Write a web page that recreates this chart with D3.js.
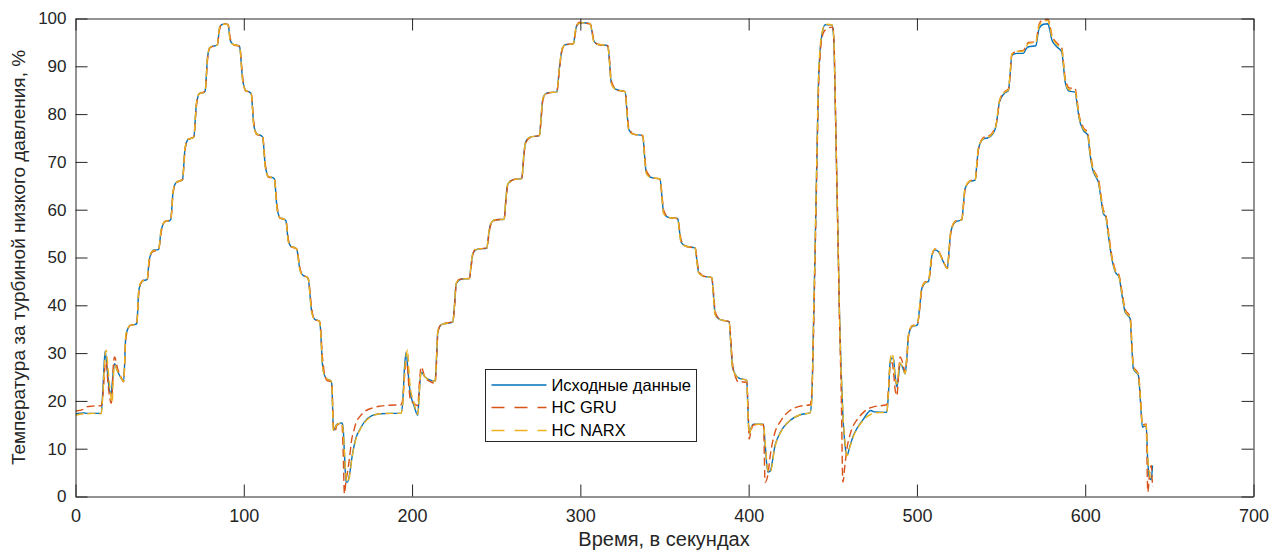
<!DOCTYPE html>
<html>
<head>
<meta charset="utf-8">
<script src="https://cdn.jsdelivr.net/npm/d3@7"></script>
<style>
  body { margin: 0; background: #fff; }
  svg { display: block; font-family: "Liberation Sans", Arial, sans-serif; }
</style>
</head>
<body>
<svg id="chart" width="1280" height="552"></svg>
<script>
// time, s
const time = [
  0, 5, 7, 10, 15.3, 16.5, 17.6, 18.3, 19.0, 20.2, 21.2, 21.8, 22.4, 23.2, 25, 27, 28.6, 29.9, 31, 32.5, 35.5,
  36.4, 37.6, 38.6, 40.0, 41.8, 42.6, 43.8, 45.0, 46.3, 48.7, 49.5, 50.8, 52.0, 53.3, 55.9, 56.6, 57.9, 59.0, 60.2, 62.8,
  63.6, 65.0, 66.0, 67.1, 69.5, 70.3, 71.8, 72.8, 73.5, 76.1, 77.0, 78.5, 79.5, 80.6, 83.0, 84.3, 85.6, 86.8, 88.0, 90.0,
  90.8, 91.9, 93.0, 94.5, 96.9, 97.6, 99.2, 100.2, 101.2, 103.4, 104.4, 105.9, 107.0, 107.8, 110.3,
  111.2, 112.8, 113.8, 114.7, 117.3, 118.2, 119.8, 120.8, 121.6, 124.0, 125.0, 126.4, 127.3, 128.2, 130.5,
  131.5, 133.3, 134.2, 135.1, 137.5, 138.3, 140.3, 141.4, 142.4, 144.4, 145.2, 146.8, 147.8, 149.4, 151.8,
  152.3, 153.3, 154.2, 155.3, 158.3, 159.0, 159.8, 160.8, 161.6, 162.8, 164.2, 165.2, 167.2, 168.2, 171.5, 176.1, 181.1, 187.0, 193.4,
  194.5, 195.5, 196.5, 197.3, 198.0, 198.9, 201.0, 203.4, 204.3, 205.4, 207.8, 210.5, 213.7,
  214.4, 215.3, 216.4, 217.7, 224.2, 225.2, 226.2, 227.8, 229.6, 234.1, 235.1, 236.1, 237.6, 239.5, 244.4,
  245.4, 246.4, 247.8, 249.4, 254.7, 255.7, 256.7, 258.3, 260.3, 265.2, 266.2, 267.2, 268.6, 270.2, 275.7,
  276.7, 277.7, 279.2, 281.0, 286.0, 287.5, 289.0, 290.0, 291.0, 295.9, 296.9, 297.9, 299.4, 300.9, 305.8,
  306.8, 307.8, 309.3, 310.8, 316.3, 317.3, 318.3, 320.0, 321.7, 326.6, 327.6, 328.6, 330.1, 331.6, 337.1,
  338.1, 339.1, 340.8, 342.5, 347.4, 348.4, 349.4, 350.9, 352.4, 357.9, 358.9, 359.9, 361.6, 363.3, 368.2,
  369.2, 370.2, 371.7, 373.2, 378.1, 379.1, 380.1, 381.6, 383.1, 388.4, 389.4, 390.4, 392.2, 393.9, 398.9,
  399.6, 400.3, 401.6, 402.9, 408.8, 409.8, 411.4, 412.8, 415.7, 418.7, 421.0, 424.6, 430.6, 436.5,
  437.5, 438.5, 439.5, 440.5, 441.5, 442.5, 443.5, 445.5, 449.4, 450.2, 450.8, 451.6, 452.4, 453.2, 454.0, 455.0, 456.0, 457.2, 458.4, 460.3, 462.3, 464.3, 468.2, 472.6, 474.5, 482.1,
  483.0, 484.1, 485.3, 486.1, 487.0, 488.1, 489.0, 490.0, 491.5, 493.0, 494.0, 495.0, 497.0, 500.3,
  501.6, 502.9, 504.9, 506.9, 507.9, 508.9, 510.8, 512.8, 515.7, 518.1, 519.1, 520.1, 522.7, 526.7,
  527.6, 528.6, 531.6, 534.6, 535.6, 536.6, 539.5, 542.5, 545.0, 547.1, 548.0, 549.0, 551.8, 554.4,
  555.4, 556.4, 559.4, 563.3, 564.8, 566.3, 570.7, 571.6, 572.6, 575.2, 577.8, 579.0, 580.2, 583.1, 586.1,
  587.1, 588.1, 590.4, 594.0, 595.2, 596.4, 598.9, 601.5, 602.7, 604.3, 606.9, 607.8, 609.3, 610.8, 612.2,
  614.0, 615.8, 617.8, 620.1, 621.9, 623.7, 626.7, 627.6, 628.6, 631.6, 632.8, 634.0, 636.2, 637.2, 638.2, 639.2, 640.0
];

// Исходные данные
const original = [
  17.3, 17.5, 17.4, 17.4, 17.4, 24.0, 30.4, 28.5, 26.0, 22.2, 21.5, 23.5, 26.0, 27.8, 26.2, 24.8, 24.1, 33.5, 35.0, 35.8, 36.0,
  36.2, 43.0, 44.4, 45.1, 45.3, 45.4, 49.5, 50.8, 51.6, 51.6, 51.8, 55.5, 56.9, 57.6, 57.7, 57.9, 63.5, 65.2, 65.8, 66.1,
  66.3, 72.5, 74.1, 74.8, 75.0, 75.2, 82.0, 83.7, 84.3, 84.5, 84.8, 92.0, 93.6, 94.1, 94.3, 94.5, 98.0, 98.7, 98.8, 98.8,
  98.5, 95.5, 94.8, 94.5, 94.3, 94.0, 87.5, 85.7, 84.9, 84.6, 84.3, 77.8, 76.3, 75.8, 75.5,
  75.2, 69.0, 67.5, 66.9, 66.7, 66.4, 60.2, 58.8, 58.3, 58.0, 57.7, 53.6, 52.7, 52.3, 52.0,
  51.7, 47.6, 46.7, 46.3, 45.9, 45.5, 38.8, 37.5, 37.0, 36.8, 36.4, 27.5, 25.5, 24.6, 24.2,
  23.5, 13.8, 14.4, 15.1, 15.4, 14.5, 9.0, 3.0, 3.0, 4.5, 8.0, 10.0, 12.8, 13.5, 15.5, 16.9, 17.3, 17.4, 17.4,
  20.0, 27.0, 30.2, 27.5, 24.5, 21.8, 19.2, 17.0, 22.0, 26.0, 25.0, 24.4, 24.1,
  28.0, 34.4, 35.5, 36.0, 36.5, 40.0, 44.5, 45.2, 45.5, 45.6, 48.5, 50.8, 51.5, 51.8, 51.9,
  54.5, 56.7, 57.6, 57.9, 58.0, 62.0, 65.1, 66.0, 66.3, 66.5, 70.5, 73.8, 74.8, 75.2, 75.5,
  79.5, 83.2, 84.2, 84.5, 84.6, 89.5, 93.4, 94.2, 94.5, 94.7, 97.0, 98.6, 99.0, 99.1, 98.9,
  97.5, 95.5, 94.8, 94.6, 94.3, 91.0, 86.7, 85.5, 85.1, 84.7, 81.0, 77.0, 76.1, 75.8, 75.5,
  71.5, 67.9, 67.0, 66.7, 66.4, 63.0, 59.5, 58.7, 58.4, 58.1, 55.5, 53.2, 52.6, 52.3, 52.0,
  49.5, 47.0, 46.4, 46.1, 45.8, 42.0, 38.2, 37.4, 37.0, 36.6, 32.0, 27.1, 25.5, 24.8, 24.3,
  18.0, 13.1, 14.5, 15.1, 15.1, 11.0, 5.1, 5.3, 10.7, 13.3, 14.6, 15.9, 17.1, 17.5,
  20.4, 35.0, 51.9, 70.0, 86.7, 93.5, 96.5, 98.7, 98.7, 97.5, 93.7, 80.0, 65.8, 52.0, 37.9, 26.0, 17.0, 11.0, 8.6, 10.7, 12.8, 14.2, 16.2, 18.0, 17.7, 17.6,
  21.0, 28.1, 29.0, 28.7, 25.5, 22.9, 25.0, 27.8, 27.0, 25.7, 29.0, 33.7, 35.5, 35.9,
  39.5, 43.5, 44.7, 45.0, 47.5, 50.4, 51.6, 51.2, 49.1, 47.7, 51.5, 55.3, 57.4, 57.9,
  61.0, 64.4, 65.9, 66.2, 69.5, 72.8, 74.8, 75.1, 75.8, 77.7, 80.0, 82.5, 84.3, 84.9,
  88.5, 92.3, 92.7, 92.7, 93.6, 94.1, 94.3, 96.0, 97.9, 98.8, 98.9, 97.5, 95.5, 94.1, 93.0,
  90.0, 86.7, 84.8, 84.6, 82.0, 79.1, 76.6, 75.6, 72.0, 68.6, 66.5, 65.8, 62.5, 59.2, 58.5,
  54.0, 49.8, 47.0, 45.9, 42.0, 38.6, 37.2, 32.0, 26.7, 25.3, 20.0, 14.5, 14.9, 7.2, 4.0, 3.5, 6.5
];

// НС GRU
const gru = [
  17.9, 18.3, 18.8, 18.9, 19.0, 22.0, 27.5, 28.2, 25.0, 21.0, 19.5, 21.5, 27.0, 29.2, 26.8, 25.0, 24.0, 33.0, 34.8, 35.8, 36.0,
  36.2, 42.5, 44.5, 45.2, 45.4, 45.4, 49.0, 51.0, 51.3, 51.5, 51.8, 55.0, 57.0, 57.5, 57.8, 57.9, 63.0, 65.4, 65.7, 66.2,
  66.3, 72.0, 74.3, 74.6, 75.1, 75.2, 81.5, 83.9, 84.2, 84.6, 84.8, 91.5, 93.8, 94.0, 94.4, 94.5, 97.6, 98.8, 98.9, 98.8,
  98.6, 96.0, 94.9, 94.4, 94.3, 94.1, 88.2, 85.6, 84.8, 84.6, 84.4, 78.4, 76.2, 75.7, 75.5,
  75.3, 69.6, 67.4, 66.8, 66.7, 66.5, 60.8, 58.7, 58.2, 58.0, 57.8, 54.0, 52.6, 52.2, 52.0,
  51.8, 48.0, 46.6, 46.2, 45.9, 45.6, 39.5, 37.4, 36.9, 36.8, 36.5, 29.0, 26.0, 24.3, 24.0,
  23.8, 14.5, 13.6, 14.9, 15.3, 10.0, 0.6, 3.5, 5.0, 8.0, 12.1, 13.5, 15.9, 16.4, 17.7, 18.5, 18.9, 19.1, 19.2,
  20.5, 25.0, 28.1, 27.0, 23.5, 20.4, 19.5, 19.0, 23.5, 27.1, 24.8, 24.1, 23.7,
  27.0, 34.0, 35.6, 36.0, 36.6, 39.5, 44.2, 45.4, 45.5, 45.7, 48.0, 50.6, 51.7, 51.8, 52.0,
  54.0, 56.4, 57.3, 57.8, 58.1, 61.5, 64.8, 65.8, 66.3, 66.6, 70.0, 73.5, 74.6, 75.1, 75.6,
  79.0, 82.9, 84.0, 84.4, 84.7, 89.0, 93.2, 94.1, 94.5, 94.8, 96.6, 98.5, 99.2, 99.1, 98.9,
  97.9, 95.8, 94.8, 94.5, 94.3, 91.6, 87.2, 85.6, 85.0, 84.7, 81.6, 77.5, 76.3, 75.8, 75.5,
  72.1, 68.4, 67.2, 66.7, 66.4, 63.6, 60.0, 58.9, 58.4, 58.1, 56.0, 53.6, 52.7, 52.3, 52.0,
  50.0, 47.4, 46.5, 46.1, 45.8, 42.8, 38.8, 37.5, 37.0, 36.6, 33.0, 28.0, 25.0, 24.0, 23.9,
  19.0, 12.0, 14.0, 15.0, 15.0, 3.0, 4.5, 8.5, 13.5, 15.6, 16.8, 18.0, 18.9, 19.2,
  21.5, 33.0, 50.0, 68.0, 85.0, 92.5, 95.8, 97.6, 98.2, 97.8, 94.5, 81.0, 66.5, 52.0, 37.0, 22.0, 3.0, 6.5, 10.0, 13.0, 14.9, 16.0, 17.6, 18.6, 18.8, 19.2,
  22.0, 27.4, 28.0, 26.0, 22.5, 21.1, 25.0, 29.2, 28.0, 26.0, 28.5, 33.5, 35.7, 36.1,
  39.0, 43.4, 44.9, 45.1, 47.0, 50.3, 51.8, 51.4, 49.2, 47.8, 51.0, 55.0, 57.6, 58.0,
  60.5, 64.2, 66.1, 66.3, 69.0, 72.6, 75.1, 75.4, 76.2, 77.9, 79.8, 82.6, 84.6, 85.3,
  88.2, 92.4, 93.2, 93.3, 94.3, 95.0, 95.1, 96.8, 98.8, 99.8, 99.9, 98.6, 96.5, 94.9, 93.8,
  90.8, 87.5, 85.5, 85.3, 82.8, 79.8, 77.2, 76.1, 72.8, 69.3, 67.1, 66.5, 63.2, 59.9, 59.0,
  54.8, 50.4, 47.5, 46.3, 42.8, 39.2, 37.6, 33.0, 27.3, 25.6, 21.0, 15.0, 15.2, 0.9, 4.5, 6.5, 2.0
];

// НС NARX
const narx = [
  17.0, 17.3, 17.3, 17.4, 17.3, 23.0, 29.5, 30.6, 28.0, 23.5, 20.5, 19.7, 24.0, 27.5, 26.2, 24.8, 24.1, 33.8, 35.1, 35.8, 36.0,
  36.2, 43.2, 44.6, 45.1, 45.3, 45.4, 49.8, 51.0, 51.5, 51.6, 51.8, 55.7, 57.0, 57.6, 57.7, 57.9, 63.7, 65.3, 65.8, 66.1,
  66.3, 72.7, 74.2, 74.8, 75.0, 75.2, 82.2, 83.8, 84.3, 84.5, 84.8, 92.2, 93.7, 94.1, 94.3, 94.5, 98.1, 98.7, 98.8, 98.8,
  98.5, 95.4, 94.7, 94.5, 94.3, 94.0, 87.3, 85.6, 84.9, 84.6, 84.3, 77.6, 76.2, 75.8, 75.5,
  75.2, 68.8, 67.4, 66.9, 66.7, 66.4, 60.0, 58.7, 58.3, 58.0, 57.7, 53.4, 52.6, 52.3, 52.0,
  51.7, 47.4, 46.6, 46.3, 45.9, 45.5, 38.6, 37.4, 37.0, 36.8, 36.4, 27.2, 25.4, 24.6, 24.2,
  23.4, 13.6, 14.3, 15.0, 15.4, 14.0, 9.5, 4.0, 3.0, 4.2, 7.8, 9.8, 12.6, 13.4, 15.4, 16.8, 17.3, 17.4, 17.4,
  19.5, 26.0, 29.5, 30.7, 27.0, 23.0, 19.8, 17.2, 21.5, 26.2, 25.0, 24.4, 24.1,
  28.5, 34.6, 35.6, 36.0, 36.5, 40.2, 44.6, 45.3, 45.5, 45.6, 48.7, 50.9, 51.6, 51.8, 51.9,
  54.7, 56.8, 57.6, 57.9, 58.0, 62.2, 65.2, 66.0, 66.3, 66.5, 70.7, 73.9, 74.8, 75.2, 75.5,
  79.7, 83.3, 84.2, 84.5, 84.6, 89.7, 93.5, 94.2, 94.5, 94.7, 97.2, 98.7, 99.0, 99.1, 98.9,
  97.4, 95.4, 94.7, 94.6, 94.3, 90.8, 86.5, 85.4, 85.1, 84.7, 80.8, 76.8, 76.0, 75.8, 75.5,
  71.3, 67.7, 66.9, 66.7, 66.4, 62.8, 59.3, 58.6, 58.4, 58.1, 55.3, 53.0, 52.5, 52.3, 52.0,
  49.3, 46.8, 46.3, 46.1, 45.8, 41.8, 38.0, 37.3, 37.0, 36.6, 31.8, 26.9, 25.4, 24.8, 24.3,
  17.5, 13.0, 14.4, 15.1, 15.1, 11.5, 5.5, 5.0, 10.5, 13.2, 14.6, 15.9, 17.1, 17.5,
  20.0, 36.0, 53.0, 71.0, 87.5, 94.0, 96.8, 98.8, 98.7, 97.8, 94.0, 80.5, 66.0, 52.0, 38.0, 26.0, 17.5, 11.5, 8.5, 10.5, 12.6, 14.0, 16.0, 17.2, 17.5, 17.6,
  21.5, 28.5, 29.9, 28.5, 25.0, 23.5, 26.0, 28.0, 27.0, 25.7, 29.5, 34.0, 35.6, 35.9,
  39.8, 43.8, 44.8, 45.0, 47.8, 50.6, 51.8, 51.3, 49.1, 47.7, 51.8, 55.5, 57.5, 57.9,
  61.2, 64.6, 66.0, 66.2, 69.7, 73.0, 74.9, 75.2, 76.0, 77.8, 80.2, 82.8, 84.5, 85.1,
  88.8, 92.6, 93.1, 93.2, 94.0, 94.8, 95.0, 96.6, 98.5, 99.4, 99.6, 98.3, 96.2, 94.6, 93.5,
  90.4, 87.0, 85.1, 84.9, 82.4, 79.4, 76.9, 75.8, 72.3, 68.9, 66.8, 66.0, 62.8, 59.5, 58.7,
  54.3, 50.0, 47.2, 46.0, 42.3, 38.8, 37.3, 32.4, 27.0, 25.4, 20.5, 14.8, 15.0, 8.0, 4.8, 3.5, 4.0
];

const xTicks = [0, 100, 200, 300, 400, 500, 600, 700];
const yTicks = [0, 10, 20, 30, 40, 50, 60, 70, 80, 90, 100];
const xLabel = 'Время, в секундах';
const yLabel = 'Температура за турбиной низкого давления, %';

const series = [
  { name: 'Исходные данные', values: original, color: '#0072BD', dash: null },
  { name: 'НС GRU', values: gru, color: '#D95319', dash: '8,4' },
  { name: 'НС NARX', values: narx, color: '#EDB120', dash: '8,4' },
];

const plot = { left: 75.5, right: 1253.5, top: 18.5, bottom: 496.5 };
const ink = '#262626';

const svg = d3.select('#chart');

const x = d3.scaleLinear().domain([0, 700]).range([plot.left, plot.right]);
const y = d3.scaleLinear().domain([0, 100]).range([plot.bottom, plot.top]);

// clip lines to the axes box
svg.append('defs').append('clipPath')
    .attr('id', 'plot-clip')
  .append('rect')
    .attr('x', plot.left)
    .attr('y', plot.top)
    .attr('width', plot.right - plot.left)
    .attr('height', plot.bottom - plot.top);

const line = d3.line()
  .defined(d => d[1] != null)
  .x(d => x(d[0]))
  .y(d => y(d[1]))
  .curve(d3.curveMonotoneX);

const lines = svg.append('g').attr('clip-path', 'url(#plot-clip)');
series.forEach(s => {
  lines.append('path')
    .datum(time.map((t, i) => [t, s.values[i]]))
    .attr('fill', 'none')
    .attr('stroke', s.color)
    .attr('stroke-width', 1.4)
    .attr('stroke-dasharray', s.dash)
    .attr('stroke-linejoin', 'round')
    .attr('d', line);
});

// axes: ticks point inwards on all four sides, like a boxed matlab plot
function styleAxis(size) {
  return g => {
    g.select('.domain').attr('stroke', ink).attr('stroke-width', 1);
    g.selectAll('.tick line').attr('stroke', ink).attr('stroke-width', 1);
    g.selectAll('.tick text')
      .attr('fill', ink)
      .style('font-size', `${size}px`)
      .style('font-family', '"Liberation Sans", Arial, sans-serif');
  };
}

svg.append('g')
  .attr('transform', `translate(0,${plot.bottom})`)
  .call(d3.axisBottom(x).tickValues(xTicks).tickSize(-12).tickSizeOuter(0).tickPadding(13))
  .call(styleAxis(18));

svg.append('g')
  .attr('transform', `translate(0,${plot.top})`)
  .call(d3.axisTop(x).tickValues(xTicks).tickSize(-12).tickSizeOuter(0).tickFormat(''))
  .call(styleAxis(18));

svg.append('g')
  .attr('transform', `translate(${plot.left},0)`)
  .call(d3.axisLeft(y).tickValues(yTicks).tickSize(-12).tickSizeOuter(0).tickPadding(9))
  .call(styleAxis(17));

svg.append('g')
  .attr('transform', `translate(${plot.right},0)`)
  .call(d3.axisRight(y).tickValues(yTicks).tickSize(-12).tickSizeOuter(0).tickFormat(''))
  .call(styleAxis(17));

// axis titles
svg.append('text')
  .attr('x', 664)
  .attr('y', 546)
  .attr('text-anchor', 'middle')
  .attr('fill', ink)
  .style('font-size', '20px')
  .text(xLabel);

svg.append('text')
  .attr('transform', `translate(25,${(plot.top + plot.bottom) / 2}) rotate(-90)`)
  .attr('text-anchor', 'middle')
  .attr('fill', ink)
  .style('font-size', '19px')
  .text(yLabel);

// legend
const legend = { x: 485.5, y: 369.5, width: 211, height: 72, rowY: [385, 407.5, 430.5] };
const lg = svg.append('g').attr('class', 'legend');
lg.append('rect')
  .attr('x', legend.x)
  .attr('y', legend.y)
  .attr('width', legend.width)
  .attr('height', legend.height)
  .attr('fill', '#fff')
  .attr('stroke', ink)
  .attr('stroke-width', 1);

series.forEach((s, i) => {
  const ry = legend.rowY[i];
  lg.append('line')
    .attr('x1', legend.x + 6)
    .attr('x2', legend.x + 61)
    .attr('y1', ry)
    .attr('y2', ry)
    .attr('stroke', s.color)
    .attr('stroke-width', 1.3)
    .attr('stroke-dasharray', s.dash ? '13,10' : null);
  lg.append('text')
    .attr('x', legend.x + 66)
    .attr('y', ry)
    .attr('dy', '0.35em')
    .attr('fill', '#000')
    .style('font-size', '16.5px')
    .text(s.name);
});
</script>
</body>
</html>
